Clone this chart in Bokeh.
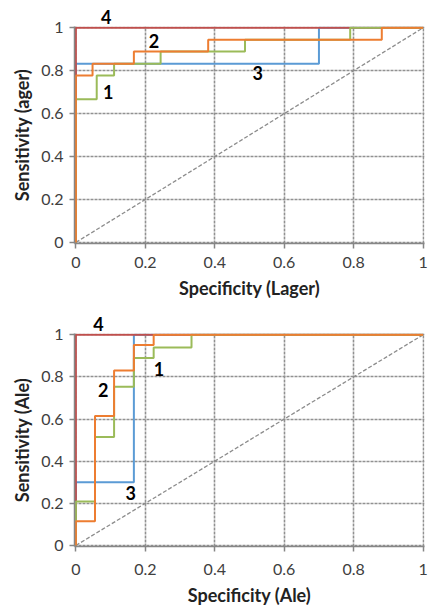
from bokeh.plotting import figure
from bokeh.models import Range1d, FixedTicker, Label, Title
from bokeh.layouts import column
from bokeh.embed import file_html
from bokeh.resources import INLINE

# ---- data ----
ticks = [0, 0.2, 0.4, 0.6, 0.8, 1]
tick_labels = {0: "0", 0.2: "0.2", 0.4: "0.4", 0.6: "0.6", 0.8: "0.8", 1: "1"}

lager1_x = [0, 0, 0.06, 0.06, 0.11, 0.11, 0.244, 0.244, 0.487, 0.487, 0.79, 0.79, 1]
lager1_y = [0, 0.667, 0.667, 0.778, 0.778, 0.833, 0.833, 0.889, 0.889, 0.944, 0.944, 1, 1]
lager2_x = [0, 0, 0.048, 0.048, 0.167, 0.167, 0.381, 0.381, 0.881, 0.881, 1]
lager2_y = [0, 0.778, 0.778, 0.833, 0.833, 0.889, 0.889, 0.944, 0.944, 1, 1]
lager3_x = [0, 0, 0.7, 0.7, 1]
lager3_y = [0, 0.833, 0.833, 1, 1]
lager4_x = [0, 0, 1]
lager4_y = [0, 1, 1]

ale1_x = [0, 0, 0.055, 0.055, 0.11, 0.11, 0.167, 0.167, 0.224, 0.224, 0.333, 0.333, 1]
ale1_y = [0, 0.208, 0.208, 0.515, 0.515, 0.753, 0.753, 0.89, 0.89, 0.94, 0.94, 1, 1]
ale2_x = [0, 0, 0.055, 0.055, 0.11, 0.11, 0.167, 0.167, 0.224, 0.224, 1]
ale2_y = [0, 0.115, 0.115, 0.615, 0.615, 0.83, 0.83, 0.952, 0.952, 1, 1]
ale3_x = [0, 0, 0.167, 0.167, 1]
ale3_y = [0, 0.3, 0.3, 1, 1]
ale4_x = [0, 0, 1]
ale4_y = [0, 1, 1]

diag_x = [0, 1]
diag_y = [0, 1]

# curve-number labels inside the plot (text, x, y); "4" sits just above the frame
lager_labels = [("2", 0.225, 0.94), ("1", 0.093, 0.70), ("3", 0.524, 0.79)]
ale_labels = [("2", 0.079, 0.738), ("1", 0.239, 0.838), ("3", 0.158, 0.247)]
lager_top_label = ("4", 0.09)
ale_top_label = ("4", 0.068)

RED = "#C0504D"
BLUE = "#5B9BD5"
GREEN = "#9BBB59"
ORANGE = "#ED7D31"
FONT = "Lato"
FRAME_W = 350


def make(series, labels, top_label, xtitle, ytitle, top, bottom, height, xstand):
    p = figure(width=429, height=height, output_backend="svg", toolbar_location=None,
               x_range=Range1d(-0.004, 1.004), y_range=Range1d(-0.005, 1.006),
               min_border_left=74, min_border_right=5, min_border_top=top,
               min_border_bottom=bottom, outline_line_color=None)
    for ax in (p.xaxis[0], p.yaxis[0]):
        ax.ticker = FixedTicker(ticks=ticks)
        ax.major_label_overrides = tick_labels
        ax.axis_line_color = "#868686"
        ax.axis_line_width = 1.5
        ax.major_tick_line_color = "#868686"
        ax.major_tick_line_width = 1.5
        ax.major_tick_out = 5
        ax.major_tick_in = 0
        ax.minor_tick_line_color = None
        ax.major_label_text_font = FONT
        ax.major_label_text_font_size = "16px"
        ax.major_label_text_color = "#404040"
        ax.axis_label_text_font = FONT
        ax.axis_label_text_font_size = "18px"
        ax.axis_label_text_font_style = "bold"
        ax.axis_label_text_color = "#222222"
    p.xaxis.axis_label = xtitle
    p.yaxis.axis_label = ytitle
    p.xaxis.major_label_standoff = xstand
    p.xaxis.axis_label_standoff = 6
    p.yaxis.major_label_standoff = 6
    p.yaxis.axis_label_standoff = 5
    for g in (p.xgrid[0], p.ygrid[0]):
        g.ticker = FixedTicker(ticks=ticks)
        g.grid_line_color = "#919191"
        g.grid_line_dash = "3 1"
        g.grid_line_width = 1.6

    p.line(diag_x, diag_y, line_color="#8C8C8C", line_dash="4 2", line_width=1.3)
    (x1, y1), (x2, y2), (x3, y3), (x4, y4) = series
    p.line(x3, y3, line_color=BLUE, line_width=2)
    p.line(x4, y4, line_color=RED, line_width=2)
    p.line(x1, y1, line_color=GREEN, line_width=2)
    p.line(x2, y2, line_color=ORANGE, line_width=2)

    for txt, lx, ly in labels:
        p.add_layout(Label(x=lx, y=ly, text=txt, text_align="center", text_baseline="middle",
                           text_font=FONT, text_font_size="18px", text_font_style="bold",
                           text_color="black"))
    txt, lx = top_label
    p.add_layout(Title(text=txt, align="left", offset=lx * FRAME_W - 5, standoff=6,
                       vertical_align="bottom", text_font=FONT, text_font_size="18px",
                       text_font_style="bold", text_color="black"), "above")
    return p


p1 = make([(lager1_x, lager1_y), (lager2_x, lager2_y), (lager3_x, lager3_y), (lager4_x, lager4_y)],
          lager_labels, lager_top_label, "Specificity (Lager)", "Sensitivity (ager)", 26, 61, 304, 8)
p2 = make([(ale1_x, ale1_y), (ale2_x, ale2_y), (ale3_x, ale3_y), (ale4_x, ale4_y)],
          ale_labels, ale_top_label, "Specificity (Ale)", "Sensitivity (Ale)", 29, 60, 304, 12)

layout = column(p1, p2, spacing=0)
open("out.html", "w").write(file_html(layout, INLINE))
